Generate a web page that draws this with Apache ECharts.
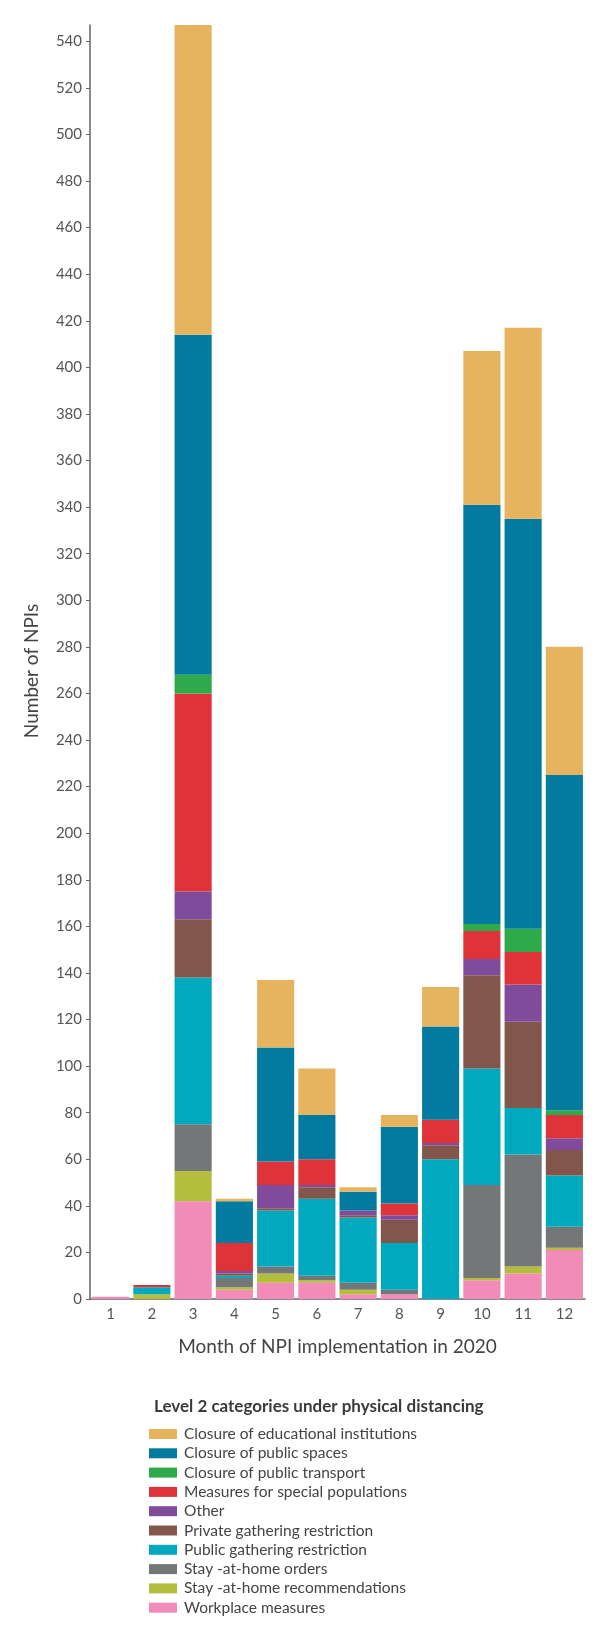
<!DOCTYPE html>
<html><head><meta charset="utf-8">
<script src="https://cdn.jsdelivr.net/npm/echarts@6/dist/echarts.min.js"></script>
<style>html,body{margin:0;padding:0;background:#fff}#c{width:614px;height:1637px}</style>
</head><body><div id="c"></div>
<script>
const months = ['1','2','3','4','5','6','7','8','9','10','11','12'];
const yTicks = [0,20,40,60,80,100,120,140,160,180,200,220,240,260,280,300,320,340,360,380,400,420,440,460,480,500,520,540];
// bottom-to-top stacking order
const workplace        = [1,0,42,4,7,7,2,2,0,8,11,21];
const stayRec          = [0,2,13,1,4,1,2,0,0,1,3,1];
const stayOrders       = [0,0,20,4,3,2,3,2,0,40,48,9];
const publicGathering  = [0,3,63,1,24,33,28,20,60,50,20,22];
const privateGathering = [0,0,25,1,1,5,1,10,6,40,37,11];
const other            = [0,0,12,1,10,1,2,2,1,7,16,5];
const specialPops      = [0,1,85,12,10,11,0,5,10,12,14,10];
const publicTransport  = [0,0,8,0,0,0,0,0,0,3,10,2];
const publicSpaces     = [0,0,146,18,49,19,8,33,40,180,176,144];
const education        = [0,0,133,1,29,20,2,5,17,66,82,55];

const seriesDefs = [
  ['Workplace measures', workplace, '#F28BB8'],
  ['Stay -at-home recommendations', stayRec, '#B5BE3C'],
  ['Stay -at-home orders', stayOrders, '#747778'],
  ['Public gathering restriction', publicGathering, '#00A9BE'],
  ['Private gathering restriction', privateGathering, '#83564B'],
  ['Other', other, '#7F4B9A'],
  ['Measures for special populations', specialPops, '#DE3439'],
  ['Closure of public transport', publicTransport, '#2EAA4A'],
  ['Closure of public spaces', publicSpaces, '#037BA0'],
  ['Closure of educational institutions', education, '#E6B35E']
];
const font = 'Lato';
const chart = echarts.init(document.getElementById('c'), null, {renderer:'canvas'});
chart.setOption({
  animation:false,
  textStyle:{fontFamily:font},
  title:{text:'Level 2 categories under physical distancing', left:154, top:1398, padding:0,
    textStyle:{fontFamily:font, fontSize:17, fontWeight:'bold', color:'#3a3a3a'}},
  legend:{orient:'vertical', left:149, top:1426, padding:0, itemWidth:28, itemHeight:10, itemGap:3.3,
    icon:'rect', data:seriesDefs.map(s=>s[0]).reverse(),
    textStyle:{fontFamily:font, fontSize:15.5, color:'#444', padding:[0,0,0,2]}},
  grid:{left:90, right:29, top:25, bottom:1637-1299},
  xAxis:{type:'category', data:months,
    name:'Month of NPI implementation in 2020', nameLocation:'middle', nameGap:38,
    nameTextStyle:{fontFamily:font, fontSize:19, color:'#444'},
    axisLine:{lineStyle:{color:'#666', width:1.5}},
    axisTick:{alignWithLabel:true, length:4, lineStyle:{color:'#666'}},
    axisLabel:{fontFamily:font, fontSize:15, color:'#555', margin:8}},
  yAxis:{type:'value', min:0, max:547, interval:20,
    name:'Number of NPIs', nameLocation:'middle', nameGap:49,
    nameTextStyle:{fontFamily:font, fontSize:19, color:'#444', padding:[0,0,0,-18]},
    splitLine:{show:false},
    axisLine:{show:true, lineStyle:{color:'#666', width:1.5}},
    axisTick:{show:true, length:4, customValues:yTicks, lineStyle:{color:'#666'}},
    axisLabel:{fontFamily:font, fontSize:15, color:'#555', margin:8, customValues:yTicks}},
  series:seriesDefs.map(s=>({name:s[0], type:'bar', stack:'all', data:s[1], barWidth:'90%',
    itemStyle:{color:s[2]}}))
});
</script></body></html>
